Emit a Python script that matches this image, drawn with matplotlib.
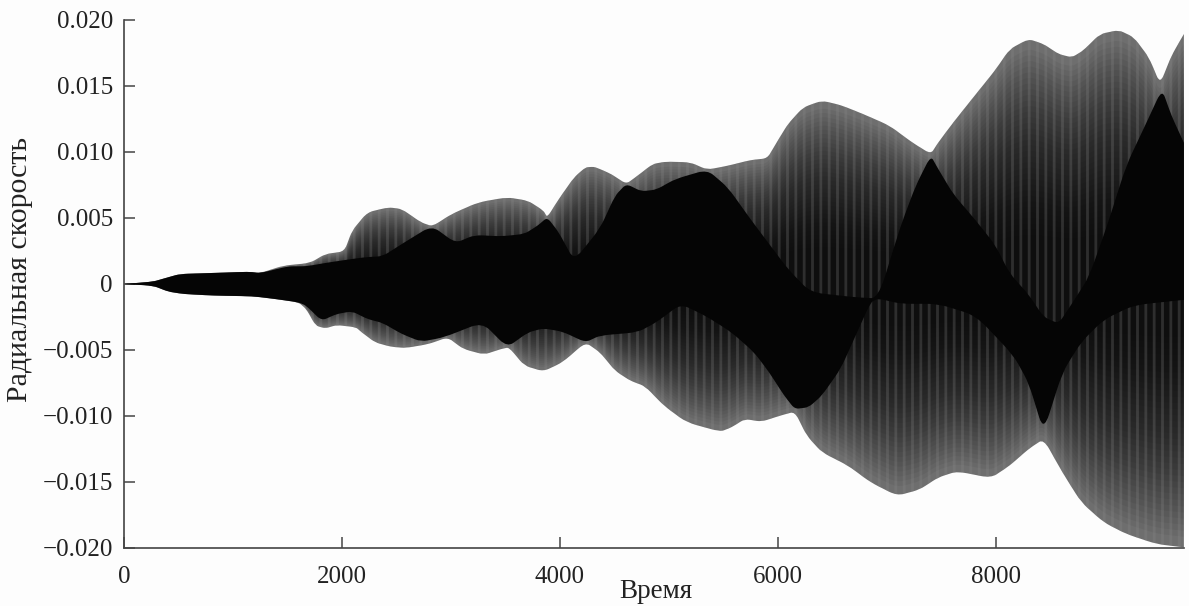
import numpy as np
import matplotlib
matplotlib.use('Agg')
import matplotlib.pyplot as plt
from matplotlib.path import Path
from matplotlib.patches import PathPatch

plt.rcParams['font.family'] = ['Liberation Serif', 'DejaVu Serif']
plt.rcParams['hatch.linewidth'] = 2.0

# envelopes
outer_up_t = [0, 267, 372, 513, 793, 1145, 1250, 1460, 1706, 1847, 2022, 2092, 2233, 2426, 2549, 2725, 2830, 3005, 3251, 3515, 3708, 3848, 3883, 3989, 4129, 4234, 4310, 4367, 4470, 4608, 4712, 4850, 4970, 5195, 5350, 5540, 5747, 5902, 5988, 6091, 6230, 6402, 6574, 6781, 7023, 7230, 7402, 7471, 7609, 7816, 7989, 8126, 8299, 8437, 8575, 8696, 8799, 8954, 9127, 9265, 9403, 9506, 9610, 9724]
outer_up_v = [0, .00018, .00043, .00076, .00083, .00093, .00083, .00139, .00159, .00227, .00247, .00404, .00543, .00581, .00568, .00467, .00437, .0053, .00619, .00657, .00631, .00556, .00505, .00644, .00808, .00884, .00888, .00871, .00833, .00758, .00821, .00909, .00927, .00922, .00866, .00896, .00939, .00952, .01073, .01212, .01338, .01389, .01356, .01288, .012, .01073, .00985, .01073, .01225, .01439, .01616, .0178, .01856, .01818, .01742, .01717, .01768, .01894, .01924, .01869, .01717, .01515, .0173, .01894]

outer_lo_t = [0, 267, 407, 548, 829, 1180, 1390, 1601, 1671, 1759, 1847, 1952, 2128, 2180, 2303, 2444, 2584, 2795, 2970, 3111, 3304, 3462, 3532, 3673, 3848, 4024, 4234, 4367, 4505, 4643, 4781, 4953, 5160, 5471, 5574, 5695, 5850, 6022, 6154, 6264, 6402, 6643, 6850, 7092, 7299, 7471, 7644, 7954, 8126, 8299, 8437, 8609, 8782, 8989, 9196, 9472, 9724]
outer_lo_v = [0, -.00013, -.00058, -.00076, -.00088, -.00093, -.00114, -.00139, -.00189, -.00316, -.00336, -.00311, -.00328, -.00366, -.00442, -.00475, -.00485, -.00455, -.00404, -.00492, -.00535, -.00492, -.0048, -.00619, -.00662, -.00593, -.00442, -.00518, -.00657, -.00732, -.00775, -.00922, -.01048, -.01119, -.01086, -.01023, -.01043, -.00997, -.00967, -.01149, -.01275, -.01376, -.01503, -.01604, -.01558, -.01465, -.01419, -.0147, -.01376, -.0125, -.01174, -.01427, -.01654, -.01806, -.01894, -.0197, -.01995]

inner_up_t = [0, 267, 372, 513, 793, 1145, 1250, 1460, 1530, 1671, 1882, 2198, 2373, 2549, 2823, 3041, 3216, 3462, 3673, 3795, 3883, 3989, 4129, 4367, 4505, 4608, 4746, 4884, 5057, 5350, 5540, 5747, 5919, 6091, 6298, 6700, 6919, 7126, 7264, 7402, 7471, 7609, 7816, 7989, 8126, 8299, 8437, 8575, 8696, 8851, 9023, 9196, 9368, 9523, 9610, 9724]
inner_up_v = [0, .00018, .00043, .00076, .00083, .00093, .00083, .00125, .00134, .00134, .00164, .00202, .0021, .00303, .00442, .00311, .00371, .00361, .00379, .00442, .00505, .00391, .00177, .0042, .00669, .00758, .00702, .00715, .00795, .00866, .00732, .00492, .00303, .00114, -.00063, -.001, -.0011, .00442, .00745, .00972, .0087, .0068, .0048, .003, .0008, -.0008, -.0025, -.003, -.0015, .0005, .0045, .009, .012, .01477, .01275, .0107]

inner_lo_t = [0, 267, 407, 548, 829, 1180, 1390, 1601, 1671, 1812, 1952, 2093, 2233, 2373, 2549, 2725, 2935, 3286, 3515, 3708, 3848, 4024, 4234, 4367, 4712, 4884, 5108, 5333, 5574, 5781, 5919, 6057, 6154, 6281, 6402, 6574, 6712, 6850, 6919, 7126, 7471, 7816, 8160, 8300, 8437, 8609, 8782, 8989, 9265, 9724]
inner_lo_v = [0, -.00013, -.00058, -.00076, -.00088, -.00093, -.00114, -.00139, -.00164, -.00278, -.00227, -.00207, -.00265, -.00295, -.00379, -.00437, -.00404, -.0029, -.0048, -.00366, -.00336, -.00361, -.00442, -.0039, -.00366, -.0029, -.00152, -.0024, -.00366, -.00518, -.00669, -.00846, -.00947, -.00934, -.00846, -.00644, -.00391, -.00139, -.0011, -.0015, -.0015, -.0024, -.0054, -.0075, -.0112, -.0067, -.0044, -.0027, -.0016, -.0012]

x_ticks = [0, 2000, 4000, 6000, 8000]
y_ticks = [-.02, -.015, -.01, -.005, 0, .005, .01, .015, .02]
y_labels = ['\u22120.020', '\u22120.015', '\u22120.010', '\u22120.005', '0', '0.005', '0.010', '0.015', '0.020']


def band(up_t, up_v, lo_t, lo_v, scale=1.0):
    # closed outline, corners slightly rounded, right end kept square
    xs = np.r_[up_t, np.array(lo_t)[::-1]]
    ys = np.r_[np.array(up_v) * scale, np.array(lo_v)[::-1] * scale]
    pts = np.column_stack([xs, ys])
    end = len(up_t) - 1
    verts = [pts[0]]
    codes = [Path.MOVETO]
    for i in range(1, len(pts) - 1):
        if i == end or i == end + 1:
            verts.append(pts[i])
            codes.append(Path.LINETO)
            continue
        a = pts[i] + 0.3 * (pts[i - 1] - pts[i])
        b = pts[i] + 0.3 * (pts[i + 1] - pts[i])
        verts += [a, pts[i], b]
        codes += [Path.LINETO, Path.CURVE3, Path.CURVE3]
    verts += [pts[-1], pts[0]]
    codes += [Path.LINETO, Path.CLOSEPOLY]
    return Path(np.array(verts), codes)


fig = plt.figure(figsize=(11.89, 6.06), dpi=100, facecolor='#fdfdfd')
ax = fig.add_axes([124 / 1189, 1 - 548 / 606, 1060 / 1189, 528 / 606])
ax.set_facecolor('#fdfdfd')

# grey part, gets darker towards the middle
outer = band(outer_up_t, outer_up_v, outer_lo_t, outer_lo_v)
ax.add_patch(PathPatch(outer, facecolor='#6e6e6e', lw=0, zorder=2))
for s in np.linspace(0.96, 0.2, 34):
    p = band(outer_up_t, outer_up_v, outer_lo_t, outer_lo_v, s)
    ax.add_patch(PathPatch(p, facecolor='black', alpha=0.048, lw=0, zorder=2))

# vertical stripes of the oscillation
ax.add_patch(PathPatch(outer, facecolor='none', edgecolor=(0.55, 0.55, 0.55, 0.26), hatch='||', lw=0, zorder=3))

# overlap of both runs is solid black
inner = band(inner_up_t, inner_up_v, inner_lo_t, inner_lo_v)
ax.add_patch(PathPatch(inner, facecolor='#050505', lw=0, zorder=4))

ax.set_xlim(0, 9725)
ax.set_ylim(-.02, .02)
ax.set_xticks(x_ticks)
ax.set_yticks(y_ticks)
ax.set_yticklabels(y_labels)
ax.tick_params(direction='in', length=8, width=1.1, color='#444444', labelsize=18, labelcolor='#222222', pad=8)
ax.tick_params(axis='x', pad=13)
ax.spines['top'].set_visible(False)
ax.spines['right'].set_visible(False)
for side in ['left', 'bottom']:
    ax.spines[side].set_color('#444444')
    ax.spines[side].set_linewidth(1.2)
    ax.spines[side].set_zorder(5)

fig.text(656 / 1189, 1 - 592 / 606, 'Время', fontsize=19.5, color='#222222', ha='center', va='center')
fig.text(20 / 1189, 1 - 269 / 606, 'Радиальная скорость', fontsize=21.5, color='#222222', rotation=90, ha='center', va='center')

fig.savefig('out.png', dpi=100, facecolor=fig.get_facecolor())
